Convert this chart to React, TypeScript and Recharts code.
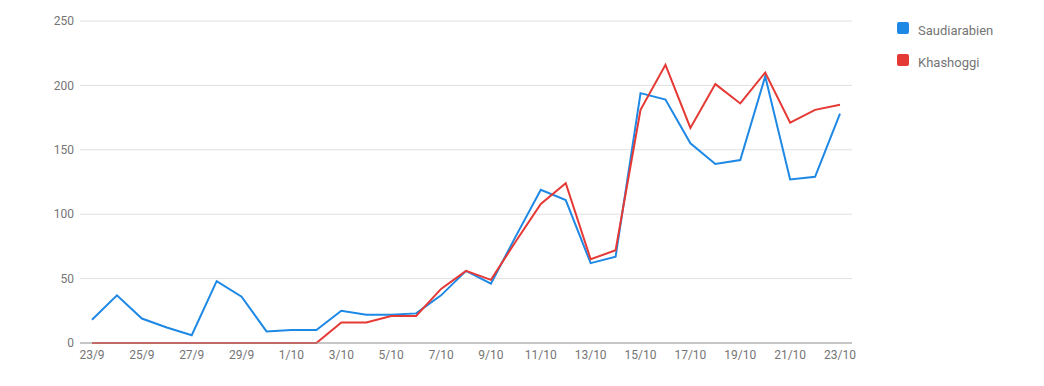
import { LineChart, Line, XAxis, YAxis, CartesianGrid } from 'recharts'

const days = [
  '23/9', '24/9', '25/9', '26/9', '27/9', '28/9', '29/9', '30/9',
  '1/10', '2/10', '3/10', '4/10', '5/10', '6/10', '7/10', '8/10',
  '9/10', '10/10', '11/10', '12/10', '13/10', '14/10', '15/10', '16/10',
  '17/10', '18/10', '19/10', '20/10', '21/10', '22/10', '23/10',
]

const saudiarabien = [
  18, 37, 19, 12, 6, 48, 36, 9, 10, 10, 25, 22, 22, 23, 37, 56,
  46, 83, 119, 111, 62, 67, 194, 189, 155, 139, 142, 207, 127, 129, 178,
]

const khashoggi = [
  0, 0, 0, 0, 0, 0, 0, 0, 0, 0, 16, 16, 21, 21, 42, 56,
  49, 79, 108, 124, 65, 72, 181, 216, 167, 201, 186, 210, 171, 181, 185,
]

const yTicks = [0, 50, 100, 150, 200, 250]

const BLUE = '#1e88e5'
const RED = '#e53935'
const FONT = 'Roboto, "Noto Sans", sans-serif'

const data = days.map((day, i) => ({
  day,
  Saudiarabien: saudiarabien[i],
  Khashoggi: khashoggi[i],
}))

const series = [
  { key: 'Saudiarabien', color: BLUE },
  { key: 'Khashoggi', color: RED },
]

// legend sits outside the plot so it doesn't eat into the chart offset
function LegendBox() {
  return (
    <div style={{ position: 'absolute', left: 897, top: 14, fontFamily: FONT }}>
      {series.map((s) => (
        <div
          key={s.key}
          style={{ display: 'flex', alignItems: 'center', height: 32 }}
        >
          <span
            style={{
              width: 12,
              height: 12,
              borderRadius: 2,
              background: s.color,
              marginRight: 9,
              marginTop: -5,
            }}
          />
          <span style={{ fontSize: 13, color: '#757575' }}>{s.key}</span>
        </div>
      ))}
    </div>
  )
}

export default function App() {
  return (
    <div style={{ position: 'absolute', left: 0, top: 0, width: 1044, height: 386, background: '#fff' }}>
      <LineChart
        width={1044}
        height={386}
        data={data}
        margin={{ top: 21, right: 192, bottom: 13, left: 0 }}
      >
        <CartesianGrid vertical={false} stroke="#e0e0e0" />
        <XAxis
          dataKey="day"
          interval={1}
          height={30}
          padding={{ left: 12, right: 12 }}
          axisLine={{ stroke: '#9e9e9e' }}
          tickLine={false}
          tickSize={0}
          tickMargin={7}
          tick={{ fontSize: 12, fill: '#757575', fontFamily: FONT }}
        />
        <YAxis
          width={80}
          domain={[0, 250]}
          ticks={yTicks}
          axisLine={false}
          tickLine={false}
          tickSize={0}
          tickMargin={6}
          tick={{ fontSize: 12, fill: '#757575', fontFamily: FONT }}
        />
        {series.map((s) => (
          <Line
            key={s.key}
            type="linear"
            dataKey={s.key}
            stroke={s.color}
            strokeWidth={2}
            dot={false}
            activeDot={false}
            isAnimationActive={false}
          />
        ))}
      </LineChart>
      <LegendBox />
    </div>
  )
}
